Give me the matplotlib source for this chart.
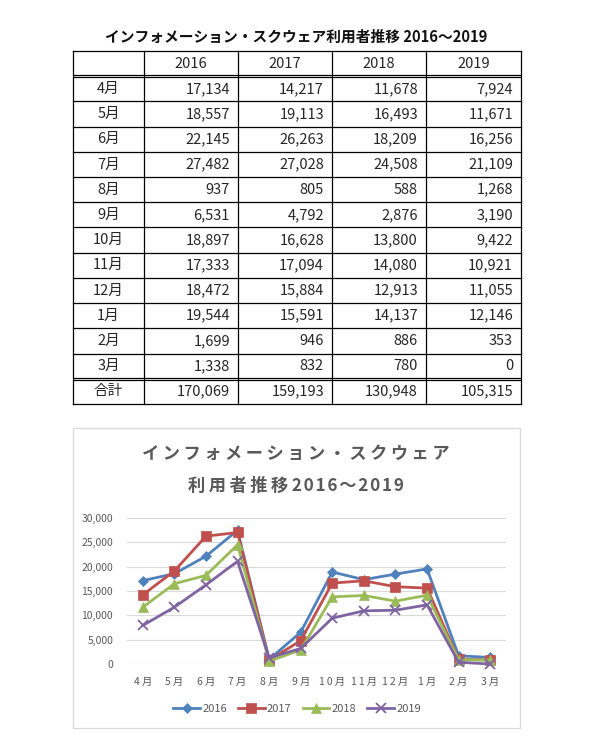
import matplotlib
matplotlib.use("Agg")
import matplotlib.pyplot as plt
from matplotlib.patches import Rectangle

plt.rcParams['font.family'] = ['Noto Sans CJK JP', 'DejaVu Sans']

months = ["4月", "5月", "6月", "7月", "8月", "9月", "10月", "11月", "12月", "1月", "2月", "3月"]
years = ["2016", "2017", "2018", "2019"]
v2016 = [17134, 18557, 22145, 27482, 937, 6531, 18897, 17333, 18472, 19544, 1699, 1338]
v2017 = [14217, 19113, 26263, 27028, 805, 4792, 16628, 17094, 15884, 15591, 946, 832]
v2018 = [11678, 16493, 18209, 24508, 588, 2876, 13800, 14080, 12913, 14137, 886, 780]
v2019 = [7924, 11671, 16256, 21109, 1268, 3190, 9422, 10921, 11055, 12146, 353, 0]
totals = [170069, 159193, 130948, 105315]
total_label = "合計"
table_title = "インフォメーション・スクウェア利用者推移 2016～2019"
chart_title1 = "インフォメーション・スクウェア"
chart_title2a = "利用者推移"
chart_title2b = "2016～2019"
yticks = [0, 5000, 10000, 15000, 20000, 25000, 30000]

series = [v2016, v2017, v2018, v2019]
colors = ["#4F81BD", "#C0504D", "#9BBB59", "#8064A2"]
markers = ["D", "s", "^", "x"]
msizes = [5, 6.5, 7, 7]

W, H = 593, 755
fig = plt.figure(figsize=(W / 100, H / 100), dpi=100)


def fr(x0, y0, x1, y1):
    return [x0 / W, 1 - y1 / H, (x1 - x0) / W, (y1 - y0) / H]


def spaced(s, sep="\u2009"):
    return sep.join(s)


# ---------------- Table ----------------
fig.text(296 / W, 1 - 37 / H, table_title, ha="center", va="center",
         fontsize=10.6, fontweight="bold", color="#111111")

ax_t = fig.add_axes(fr(73, 51, 521, 404))
col_edges = [0, 71, 165, 259, 353, 448]
nrows = len(months) + 2
ax_t.set_xlim(0, 448)
ax_t.set_ylim(nrows, 0)
ax_t.axis("off")
lw = 0.9
for r in range(nrows + 1):
    if r in (1, nrows - 1):
        for d in (-0.045, 0.045):
            ax_t.plot([0, 448], [r + d, r + d], color="black", lw=lw, clip_on=False,
                      solid_capstyle="butt")
    else:
        ax_t.plot([0, 448], [r, r], color="black", lw=lw, clip_on=False,
                  solid_capstyle="projecting")
for c in col_edges:
    ax_t.plot([c, c], [0, nrows], color="black", lw=lw, clip_on=False,
              solid_capstyle="projecting")

txt_kw = dict(fontsize=10.5, color="#262626", va="center")
for j, y in enumerate(years):
    cx = (col_edges[j + 1] + col_edges[j + 2]) / 2
    ax_t.text(cx, 0.5, y, ha="center", **txt_kw)
rows_labels = months + [total_label]
for i, lab in enumerate(rows_labels):
    ry = i + 1.5
    ax_t.text(col_edges[1] / 2, ry, lab, ha="center", **txt_kw)
    for j in range(4):
        val = series[j][i] if i < len(months) else totals[j]
        ax_t.text(col_edges[j + 2] - 8, ry, f"{val:,}", ha="right", **txt_kw)

# ---------------- Chart ----------------
fig.add_artist(Rectangle((73 / W, 1 - 728 / H), (520 - 73) / W, (728 - 428) / H,
                         transform=fig.transFigure, fill=False,
                         edgecolor="#d9d9d9", lw=0.9))

title_kw = dict(ha="center", va="center", fontsize=12.4, fontweight="bold", color="#595959")
fig.text(296 / W, 1 - 454 / H, spaced(chart_title1), **title_kw)
fig.text(296 / W, 1 - 486 / H,
         spaced(chart_title2a) + "\u2009" + spaced(chart_title2b, "\u200a"), **title_kw)

ax = fig.add_axes(fr(127, 518, 506, 664))
x = list(range(len(months)))
for s, yr, col, mk, ms in zip(series, years, colors, markers, msizes):
    ax.plot(x, s, color=col, lw=2.0, marker=mk, markersize=ms,
            markeredgewidth=1.3 if mk == "x" else 0.5, markeredgecolor=col,
            label=yr, clip_on=False, zorder=3)
ax.set_xlim(-0.5, len(months) - 0.5)
ax.set_ylim(0, 30000)
ax.set_yticks(yticks)
ax.set_yticklabels([f"{v:,}" for v in yticks])
ax.set_xticks(x)
ax.set_xticklabels([spaced(m) for m in months])
ax.grid(axis="y", color="#d9d9d9", lw=0.8)
ax.set_axisbelow(True)
for sp in ax.spines.values():
    sp.set_visible(False)
ax.tick_params(axis="both", length=0, colors="#595959", labelsize=7.5)
ax.tick_params(axis="y", pad=10)
ax.tick_params(axis="x", pad=9)

leg = ax.legend(loc="center", bbox_to_anchor=(297 / W, 1 - 709 / H),
                bbox_transform=fig.transFigure, ncol=4, frameon=False,
                fontsize=8, labelcolor="#595959", handlelength=2.4,
                handletextpad=0.2, columnspacing=1.0)

fig.savefig("out.png", dpi=100)
